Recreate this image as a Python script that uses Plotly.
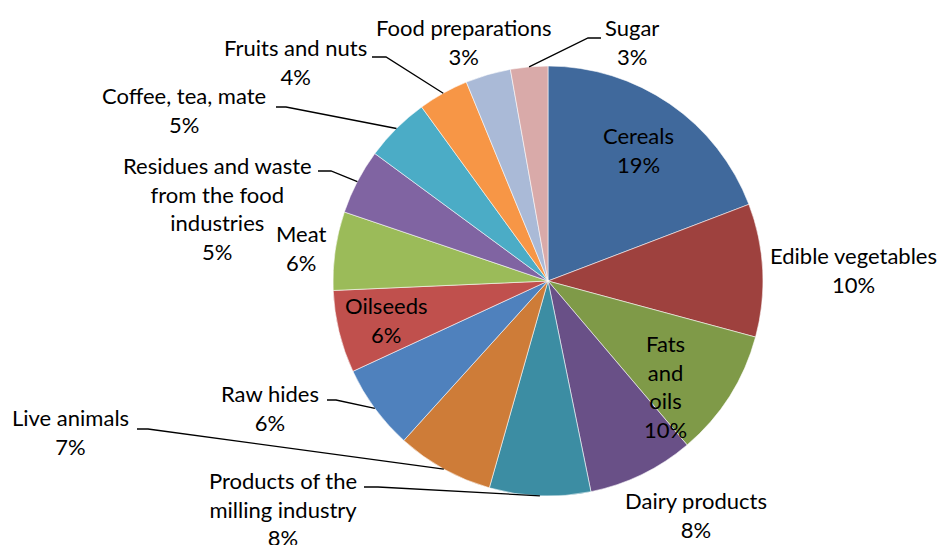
import math
import plotly.graph_objects as go

# ---- data ----
categories = [
    "Cereals", "Edible vegetables", "Fats and oils", "Dairy products",
    "Products of the milling industry", "Live animals", "Raw hides",
    "Oilseeds", "Meat", "Residues and waste from the food industries",
    "Coffee, tea, mate", "Fruits and nuts", "Food preparations", "Sugar",
]
values = [19.2, 10.0, 9.6, 8.0, 7.6, 7.3, 6.4, 6.2, 5.9, 4.9, 4.9, 3.8, 3.4, 2.8]
colors = [
    "#40699C", "#9E413E", "#7F9A48", "#695087", "#3C8DA3", "#CE7C38",
    "#4F81BD", "#C0504D", "#9BBB59", "#8064A2", "#4BACC6", "#F79646",
    "#AABAD7", "#D9AAA9",
]
# label text as displayed (line breaks)
label_lines = [
    "Cereals", "Edible vegetables", "Fats<br>and<br>oils", "Dairy products",
    "Products of the<br>milling industry", "Live animals", "Raw hides",
    "Oilseeds", "Meat", "Residues and waste<br>from the food<br>industries",
    "Coffee, tea, mate", "Fruits and nuts", "Food preparations", "Sugar",
]

# ---- layout (pixel positions) ----
W, H = 941, 545
CX, CY, R = 548, 281, 215
label_pos = [
    (638, 150), (853, 270), (665, 386), (696, 515), (283, 509), (70, 432),
    (270, 408), (386, 320), (301, 248), (217, 208), (184, 110), (295, 62),
    (464, 42), (632, 42),
]
# leader lines: (start, elbow) for labels that have them
leaders = {
    13: ((601, 38), (588, 38)),
    11: ((372, 57), (386, 57)),
    10: ((276, 107), (286, 107)),
    9: ((318, 171), (331, 171)),
    6: ((327, 400), (336, 400)),
    5: ((137, 429), (148, 429)),
    4: ((364, 487), (378, 487)),
}

FONT = "Lato"
FS = 22


def px(x):
    return x / W


def py(y):
    return 1 - y / H


fig = go.Figure()
fig.add_trace(go.Pie(
    labels=categories, values=values, sort=False, direction="clockwise",
    rotation=0, textinfo="none", hoverinfo="label+percent",
    marker=dict(colors=colors, line=dict(color="rgba(255,255,255,0.7)", width=0.8)),
    domain=dict(x=[px(CX - R), px(CX + R)], y=[py(CY + R), py(CY - R)]),
    showlegend=False,
))

total = sum(values)
annotations = []
for i, (txt, (lx, ly)) in enumerate(zip(label_lines, label_pos)):
    pct = round(values[i] / total * 100)
    annotations.append(dict(
        x=px(lx), y=py(ly), xref="paper", yref="paper",
        text=f"{txt}<br>{pct}%", showarrow=False, align="center",
        xanchor="center", yanchor="middle",
        font=dict(family=FONT, size=FS, color="#000000"),
    ))

shapes = []
cum = 0.0
mids = []
for v in values:
    mids.append((cum + v / 2) / total * 360)
    cum += v
for i, (start, elbow) in leaders.items():
    th = math.radians(mids[i])
    ex = CX + R * math.sin(th)
    ey = CY - R * math.cos(th)
    path = (f"M {px(start[0])} {py(start[1])} L {px(elbow[0])} {py(elbow[1])} "
            f"L {px(ex)} {py(ey)}")
    shapes.append(dict(type="path", path=path, xref="paper", yref="paper",
                       line=dict(color="#000000", width=1.3)))

fig.update_layout(
    width=W, height=H, margin=dict(l=0, r=0, t=0, b=0),
    paper_bgcolor="white", plot_bgcolor="white",
    annotations=annotations, shapes=shapes,
)
fig.write_html(
    "out.html",
    config={"displayModeBar": False},
    post_script="document.body.style.margin='0';document.body.style.overflow='hidden';",
)
